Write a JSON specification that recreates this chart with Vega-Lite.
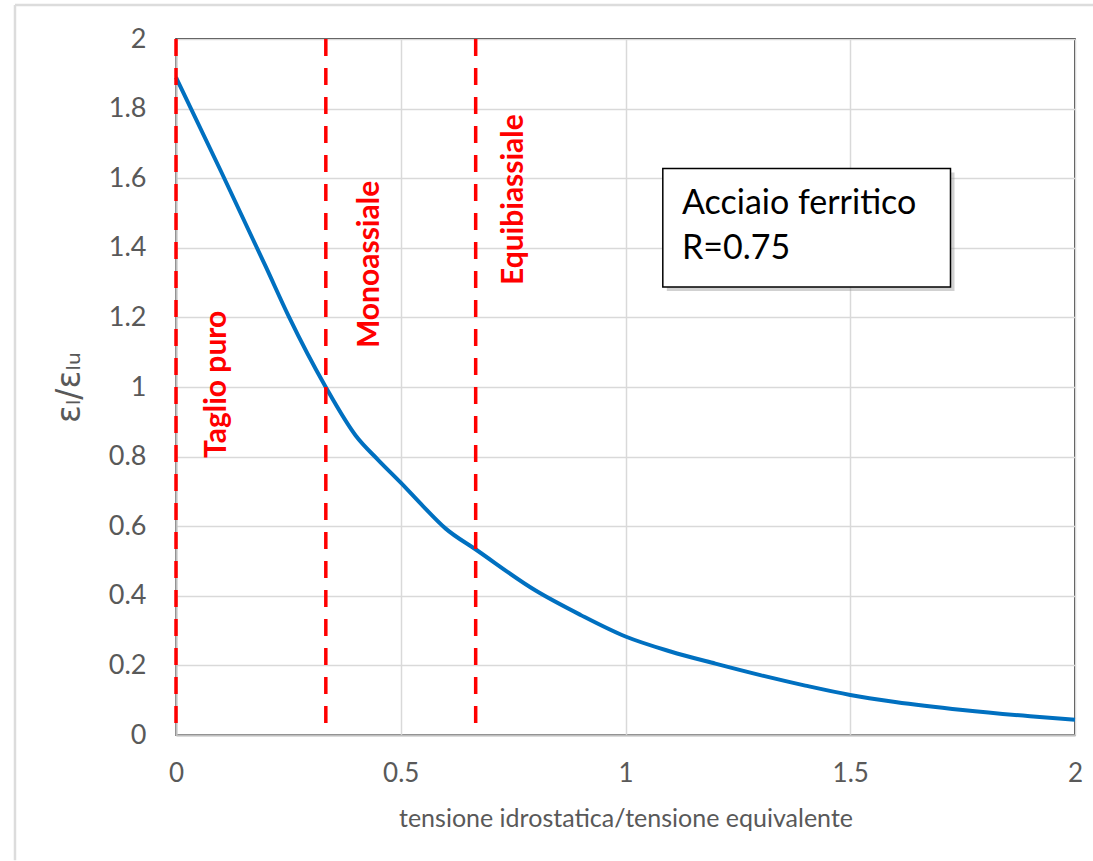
{
  "$schema": "https://vega.github.io/schema/vega-lite/v6.json",
  "width": 899,
  "height": 696,
  "autosize": {"type": "none"},
  "padding": {"left": 176, "top": 39, "right": 18, "bottom": 126},
  "background": "white",
  "config": {
    "view": {"stroke": "#000000", "strokeWidth": 1.5},
    "font": "Lato"
  },
  "datasets": {
    "curve": [
      {"x": 0, "y": 1.89},
      {"x": 0.1, "y": 1.62},
      {"x": 0.2, "y": 1.345},
      {"x": 0.25, "y": 1.205},
      {"x": 0.333, "y": 1.0},
      {"x": 0.4, "y": 0.86},
      {"x": 0.45, "y": 0.79},
      {"x": 0.5, "y": 0.725},
      {"x": 0.55, "y": 0.657},
      {"x": 0.6, "y": 0.593},
      {"x": 0.667, "y": 0.533},
      {"x": 0.8, "y": 0.415},
      {"x": 0.9, "y": 0.345},
      {"x": 1.0, "y": 0.283},
      {"x": 1.1, "y": 0.24},
      {"x": 1.2, "y": 0.205},
      {"x": 1.3, "y": 0.172},
      {"x": 1.4, "y": 0.142},
      {"x": 1.5, "y": 0.115},
      {"x": 1.6, "y": 0.095},
      {"x": 1.75, "y": 0.072},
      {"x": 1.9, "y": 0.054},
      {"x": 2.0, "y": 0.044}
    ],
    "regimes": [
      {"x": 0, "label": "Taglio puro", "lx": 0.091, "ly": 0.796},
      {"x": 0.3333, "label": "Monoassiale", "lx": 0.432, "ly": 1.112},
      {"x": 0.6667, "label": "Equibiassiale", "lx": 0.752, "ly": 1.293}
    ],
    "box": [{"x1": 1.083, "x2": 1.723, "y1": 1.287, "y2": 1.628}],
    "note": [
      {"x": 1.1257, "y": 1.497, "text": "Acciaio ferritico"},
      {"x": 1.1257, "y": 1.368, "text": "R=0.75"}
    ],
    "frameTop": [{"x1": -0.3582, "x2": 2.05, "y": 2.098}],
    "frameLeft": [{"x": -0.3582, "y1": -0.36, "y2": 2.098}]
  },
  "layer": [
    {
      "data": {"name": "frameTop"},
      "mark": {"type": "rule", "color": "#dcdcdc", "strokeWidth": 2.5, "clip": false},
      "encoding": {
        "x": {"field": "x1", "type": "quantitative", "scale": {"domain": [0, 2], "nice": false, "zero": false},
          "axis": {"values": [0, 0.5, 1, 1.5, 2], "format": "~g", "grid": true, "gridColor": "#d9d9d9", "gridWidth": 1.5,
            "ticks": false, "domainColor": "#bfbfbf", "domainWidth": 2,
            "labelFontSize": 26, "labelColor": "#595959", "labelPadding": 25, "labelFlush": false,
            "title": "tensione idrostatica/tensione equivalente", "titleFontSize": 25, "titleColor": "#595959",
            "titleFontWeight": "normal", "titlePadding": 20}},
        "x2": {"field": "x2"},
        "y": {"field": "y", "type": "quantitative", "scale": {"domain": [0, 2], "nice": false, "zero": false},
          "axis": {"values": [0, 0.2, 0.4, 0.6, 0.8, 1, 1.2, 1.4, 1.6, 1.8, 2], "format": ".1~f",
            "grid": true, "gridColor": "#d9d9d9", "gridWidth": 1.5,
            "ticks": false, "domainColor": "#bfbfbf", "domainWidth": 2,
            "labelFontSize": 27, "labelColor": "#595959", "labelPadding": 30,
            "title": "εₗ/εₗᵤ", "titleFont": "DejaVu Sans", "titleFontSize": 33, "titleColor": "#595959",
            "titleFontWeight": "normal", "titlePadding": 22}}
      }
    },
    {
      "data": {"name": "frameLeft"},
      "mark": {"type": "rule", "color": "#dcdcdc", "strokeWidth": 2.5, "clip": false},
      "encoding": {
        "x": {"field": "x", "type": "quantitative"},
        "y": {"field": "y1", "type": "quantitative"},
        "y2": {"field": "y2"}
      }
    },
    {
      "data": {"name": "curve"},
      "mark": {"type": "line", "color": "#0070C0", "strokeWidth": 4, "interpolate": "monotone"},
      "encoding": {
        "x": {"field": "x", "type": "quantitative"},
        "y": {"field": "y", "type": "quantitative"}
      }
    },
    {
      "data": {"name": "regimes"},
      "mark": {"type": "rule", "color": "#FF0000", "strokeWidth": 3.5, "strokeDash": [17, 12]},
      "encoding": {
        "x": {"field": "x", "type": "quantitative"}
      }
    },
    {
      "data": {"name": "regimes"},
      "mark": {"type": "text", "color": "#FF0000", "fontSize": 30, "fontWeight": "bold", "angle": 270,
        "align": "left", "baseline": "middle", "font": "Lato"},
      "encoding": {
        "x": {"field": "lx", "type": "quantitative"},
        "y": {"field": "ly", "type": "quantitative"},
        "text": {"field": "label"}
      }
    },
    {
      "data": {"name": "box"},
      "mark": {"type": "rect", "fill": "#9a9a9a", "opacity": 0.45, "xOffset": 4, "x2Offset": 4, "yOffset": 4, "y2Offset": 4},
      "encoding": {
        "x": {"field": "x1", "type": "quantitative"},
        "x2": {"field": "x2"},
        "y": {"field": "y1", "type": "quantitative"},
        "y2": {"field": "y2"}
      }
    },
    {
      "data": {"name": "box"},
      "mark": {"type": "rect", "fill": "white", "stroke": "#000000", "strokeWidth": 1.5},
      "encoding": {
        "x": {"field": "x1", "type": "quantitative"},
        "x2": {"field": "x2"},
        "y": {"field": "y1", "type": "quantitative"},
        "y2": {"field": "y2"}
      }
    },
    {
      "data": {"name": "note"},
      "mark": {"type": "text", "color": "#000000", "fontSize": 34, "align": "left", "baseline": "alphabetic", "font": "Lato"},
      "encoding": {
        "x": {"field": "x", "type": "quantitative"},
        "y": {"field": "y", "type": "quantitative"},
        "text": {"field": "text"}
      }
    }
  ]
}
